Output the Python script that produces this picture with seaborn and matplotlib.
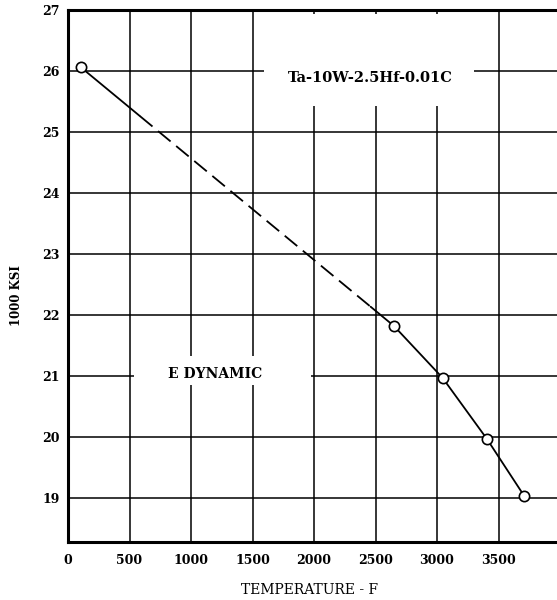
import numpy as np
import pandas as pd
import matplotlib
matplotlib.use("Agg")
import matplotlib.pyplot as plt
from matplotlib.patches import Rectangle
import seaborn as sns

# ---- data ----
temperature_f = [105, 2650, 3045, 3405, 3710]
modulus_1000ksi = [26.06, 21.82, 20.97, 19.97, 19.03]
x_ticks = [0, 500, 1000, 1500, 2000, 2500, 3000, 3500]
y_ticks = [19, 20, 21, 22, 23, 24, 25, 26, 27]
alloy_label = "Ta-10W-2.5Hf-0.01C"
curve_label = "E DYNAMIC"
x_label = "TEMPERATURE - F"
y_label = "1000 KSI"
dash_range = (585, 2460)  # extrapolated (dashed) part of the curve, in F

df = pd.DataFrame({"T": temperature_f, "E": modulus_1000ksi})

sns.set_theme(style="white")
plt.rcParams["font.family"] = ["DejaVu Serif", "DejaVu Sans"]
plt.rcParams["text.color"] = "black"

fig = plt.figure(figsize=(5.57, 6.0), dpi=100)
ax = fig.add_axes([68 / 557, 58 / 600, 489 / 557, 532 / 600])
ax.set_xlim(0, 3975)
ax.set_ylim(18.28, 27)

# grid
for xv in x_ticks[1:]:
    ax.axvline(xv, color="black", lw=1.1, zorder=1)
for yv in y_ticks[:-1]:
    ax.axhline(yv, color="black", lw=1.1, zorder=1)

# white masks behind the labels
ax.add_patch(Rectangle((1590, 25.43), 1710, 1.5, facecolor="white",
                       edgecolor="none", zorder=2))
ax.add_patch(Rectangle((540, 20.85), 1435, 0.48, facecolor="white",
                       edgecolor="none", zorder=2))

# curve: solid - dashed - solid
t0, t1 = temperature_f[0], temperature_f[1]
e0, e1 = modulus_1000ksi[0], modulus_1000ksi[1]
d0, d1 = dash_range
ed0 = np.interp(d0, [t0, t1], [e0, e1])
ed1 = np.interp(d1, [t0, t1], [e0, e1])
ax.plot([t0, d0], [e0, ed0], color="black", lw=1.3, zorder=3)
ax.plot([d0, d1], [ed0, ed1], color="black", lw=1.3, dashes=(9, 4), zorder=3)
ax.plot([d1, t1], [ed1, e1], color="black", lw=1.3, zorder=3)
sns.lineplot(data=df.iloc[1:], x="T", y="E", ax=ax, color="black", lw=1.3,
             zorder=3, sort=False)
sns.scatterplot(data=df, x="T", y="E", ax=ax, s=55, facecolor="white",
                edgecolor="black", linewidth=1.2, zorder=4)

ax.text(2455, 25.89, alloy_label, ha="center", va="center", fontsize=10.5,
        fontweight="semibold", color="black", zorder=5)
ax.text(1200, 21.03, curve_label, ha="center", va="center", fontsize=10,
        fontweight="semibold", color="black", zorder=5)

# spines
for s in ["left", "top", "bottom"]:
    ax.spines[s].set_linewidth(2.2)
    ax.spines[s].set_color("black")
ax.spines["right"].set_visible(False)

ax.set_xticks(x_ticks)
ax.set_yticks(y_ticks)
ax.set_xticklabels([str(v) for v in x_ticks], fontweight="bold", fontsize=9)
ax.set_yticklabels([str(v) for v in y_ticks], fontweight="bold", fontsize=9)
ax.tick_params(axis="x", length=0, pad=9, colors="black")
ax.tick_params(axis="y", length=0, pad=6, colors="black")
ax.set_xlabel("")
ax.set_ylabel("")
fig.text(310 / 557, 1 - 590 / 600, x_label, ha="center", va="center",
         fontsize=10, color="black")
fig.text(17 / 557, 1 - 296 / 600, y_label, ha="center", va="center",
         rotation=90, fontsize=8.5, fontweight="bold", color="black")

fig.savefig("out.png", dpi=100)
